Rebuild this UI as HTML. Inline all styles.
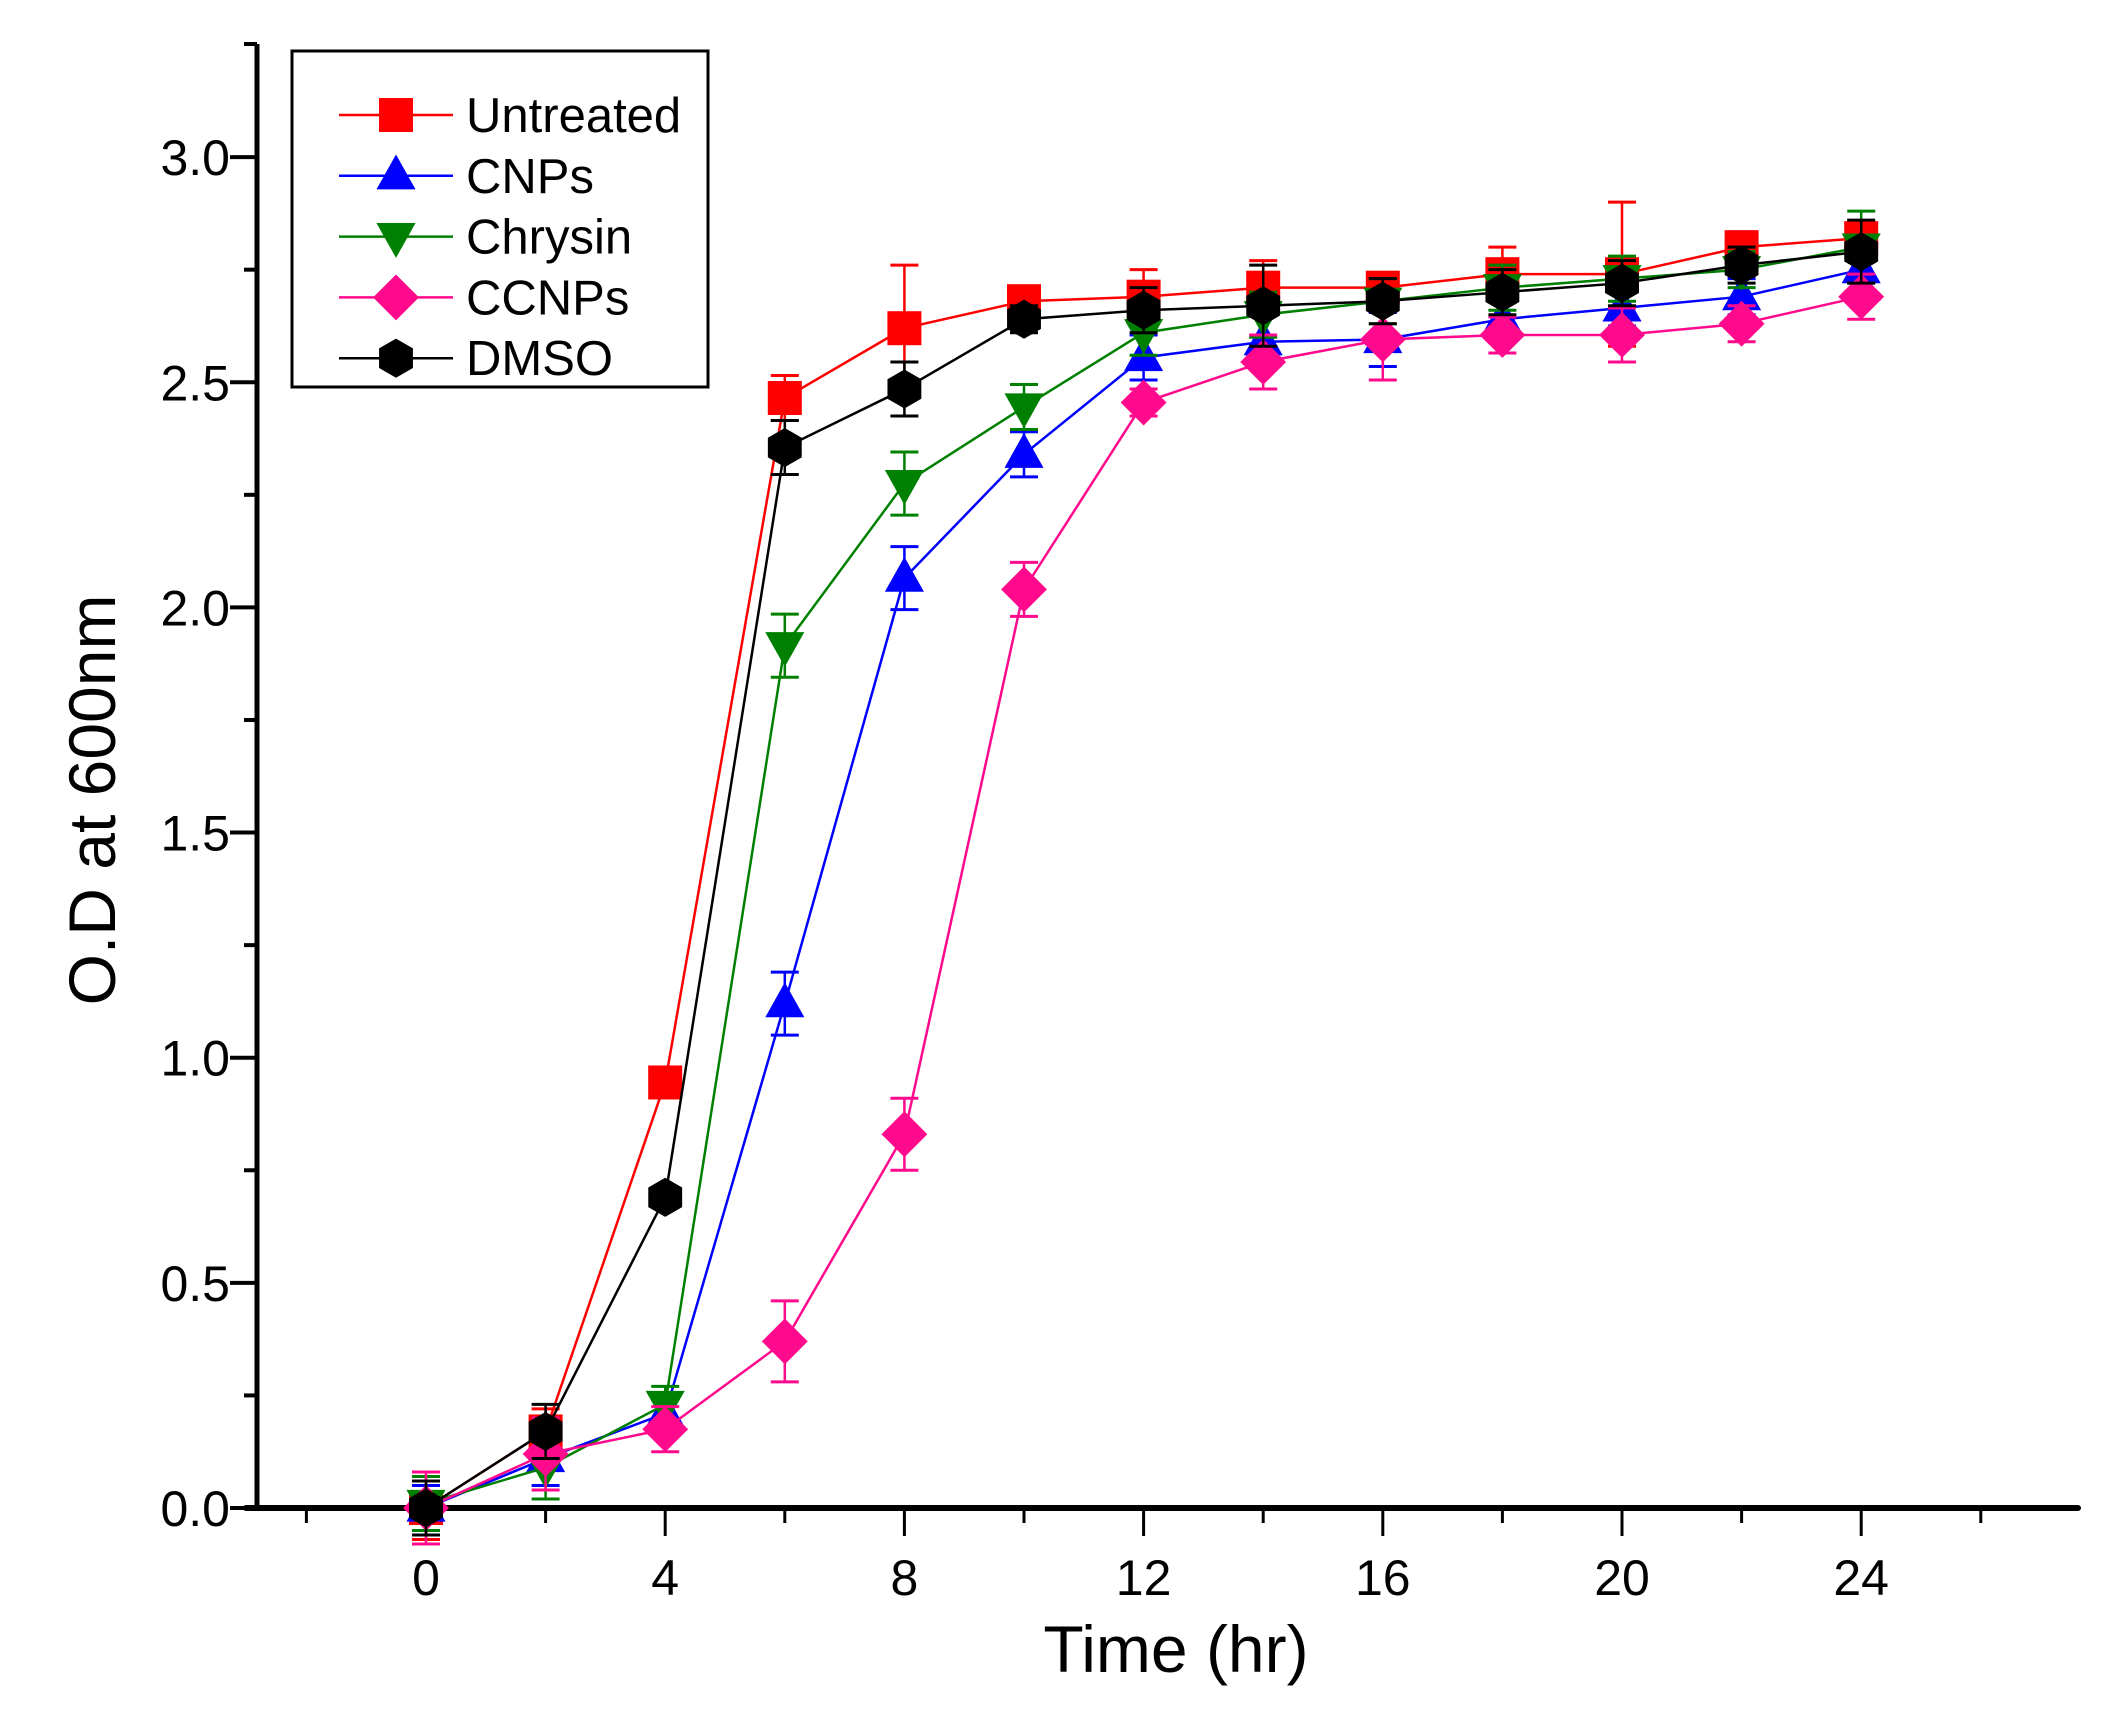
<!DOCTYPE html>
<html><head><meta charset="utf-8"><style>html,body{margin:0;padding:0;background:#fff}svg{display:block}</style></head>
<body>
<svg id="s" width="2112" height="1712" xmlns="http://www.w3.org/2000/svg" font-family="Liberation Sans, Arial, sans-serif">
<rect width="2112" height="1712" fill="#fff"/>
<g id="ax"></g>
<g id="data"></g>
<g id="leg"></g>
</svg>
<script>
const NS="http://www.w3.org/2000/svg";
function el(p,t,a,txt){const e=document.createElementNS(NS,t);for(const k in a)e.setAttribute(k,a[k]);if(txt!==undefined)e.textContent=txt;p.appendChild(e);return e;}
const X=t=>426+59.8*t, Y=v=>1508-450.3*v;
const ax=document.getElementById('ax');
el(ax,'line',{x1:257,y1:44,x2:257,y2:1510,stroke:'#000','stroke-width':5});
el(ax,'line',{x1:246,y1:1508,x2:2078,y2:1508,stroke:'#000','stroke-width':6,'stroke-linecap':'round'});
for(let t=-2;t<=26;t+=2){const maj=t%4==0;el(ax,'line',{x1:X(t),y1:1508,x2:X(t),y2:maj?1536:1523,stroke:'#000','stroke-width':3});
 if(maj&&t>=0&&t<=24)el(ax,'text',{x:X(t),y:1595,'font-size':50,'text-anchor':'middle'},t);}
for(let i=0;i<=12;i++){const v=i*0.25,maj=i%2==0;if(Y(v)<44)continue;el(ax,'line',{x1:257,y1:Y(v),x2:maj?230:244,y2:Y(v),stroke:'#000','stroke-width':4});
 if(maj)el(ax,'text',{x:230,y:Y(v)+18,'font-size':50,'text-anchor':'end'},v.toFixed(1));}
el(ax,'line',{x1:244,y1:44,x2:257,y2:44,stroke:'#000','stroke-width':4});
el(ax,'text',{x:1176,y:1672,'font-size':66,'text-anchor':'middle'},'Time (hr)');
el(ax,'text',{x:0,y:0,'font-size':66,'text-anchor':'middle',transform:'translate(115,800) rotate(-90)'},'O.D at 600nm');
const T=[0,2,4,6,8,10,12,14,16,18,20,22,24];
const S=[
 {n:'Untreated',c:'#ff0000',m:'sq',v:[0,0.17,0.945,2.465,2.62,2.68,2.69,2.71,2.71,2.74,2.74,2.80,2.82],e:[0.07,0.05,0,0.05,0.14,0.03,0.06,0.06,0.03,0.06,0.16,0.03,0.03]},
 {n:'CNPs',c:'#0000ff',m:'up',v:[0,0.11,0.21,1.12,2.065,2.34,2.555,2.59,2.595,2.64,2.665,2.69,2.75],e:[0.05,0.06,0.04,0.07,0.07,0.05,0.05,0.06,0.06,0.05,0.04,0.04,0.05]},
 {n:'Chrysin',c:'#008000',m:'dn',v:[0.01,0.09,0.23,1.915,2.275,2.445,2.61,2.65,2.68,2.71,2.73,2.75,2.80],e:[0.06,0.07,0.04,0.07,0.07,0.05,0.05,0.05,0.05,0.05,0.05,0.04,0.08]},
 {n:'CCNPs',c:'#ff0a8c',m:'di',v:[0,0.12,0.175,0.37,0.83,2.04,2.455,2.545,2.595,2.605,2.605,2.63,2.69],e:[0.08,0.08,0.05,0.09,0.08,0.06,0.03,0.06,0.09,0.04,0.06,0.04,0.05]},
 {n:'DMSO',c:'#000000',m:'hx',v:[0,0.17,0.69,2.355,2.485,2.64,2.66,2.67,2.68,2.70,2.72,2.76,2.79],e:[0.06,0.06,0,0.06,0.06,0.03,0.05,0.09,0.05,0.05,0.05,0.04,0.07]}
];
function mark(g,m,x,y,c,r){
 if(m=='sq')el(g,'rect',{x:x-r,y:y-r,width:2*r,height:2*r,fill:c});
 else if(m=='up')el(g,'polygon',{points:`${x},${y-r*1.25} ${x+r*1.15},${y+r*0.8} ${x-r*1.15},${y+r*0.8}`,fill:c});
 else if(m=='dn')el(g,'polygon',{points:`${x},${y+r*1.25} ${x+r*1.15},${y-r*0.8} ${x-r*1.15},${y-r*0.8}`,fill:c});
 else if(m=='di')el(g,'polygon',{points:`${x},${y-r*1.35} ${x+r*1.35},${y} ${x},${y+r*1.35} ${x-r*1.35},${y}`,fill:c});
 else {let p=[];for(let i=0;i<6;i++){const a=Math.PI/6+i*Math.PI/3;p.push((x+r*1.15*Math.cos(a))+','+(y+r*1.15*Math.sin(a)));}el(g,'polygon',{points:p.join(' '),fill:c});}
}
const d=document.getElementById('data');
S.forEach(s=>{
 el(d,'polyline',{points:T.map((t,i)=>X(t)+','+Y(s.v[i])).join(' '),fill:'none',stroke:s.c,'stroke-width':2.5});
 T.forEach((t,i)=>{const x=X(t),y1=Y(s.v[i]+s.e[i]),y2=Y(s.v[i]-s.e[i]);if(s.e[i]>0){
  el(d,'line',{x1:x,y1:y1,x2:x,y2:y2,stroke:s.c,'stroke-width':2.5});
  el(d,'line',{x1:x-14,y1:y1,x2:x+14,y2:y1,stroke:s.c,'stroke-width':3});
  el(d,'line',{x1:x-14,y1:y2,x2:x+14,y2:y2,stroke:s.c,'stroke-width':3});}});
 T.forEach((t,i)=>mark(d,s.m,X(t),Y(s.v[i]),s.c,17));
});
const L=document.getElementById('leg');
el(L,'rect',{x:292,y:51,width:416,height:336,fill:'#fff',stroke:'#000','stroke-width':3});
S.forEach((s,i)=>{const y=115+i*60.8;
 el(L,'line',{x1:339,y1:y,x2:453,y2:y,stroke:s.c,'stroke-width':2.5});
 mark(L,s.m,396,y,s.c,17);
 el(L,'text',{x:466,y:y+17,'font-size':49},s.n);});
</script>
</body></html>
